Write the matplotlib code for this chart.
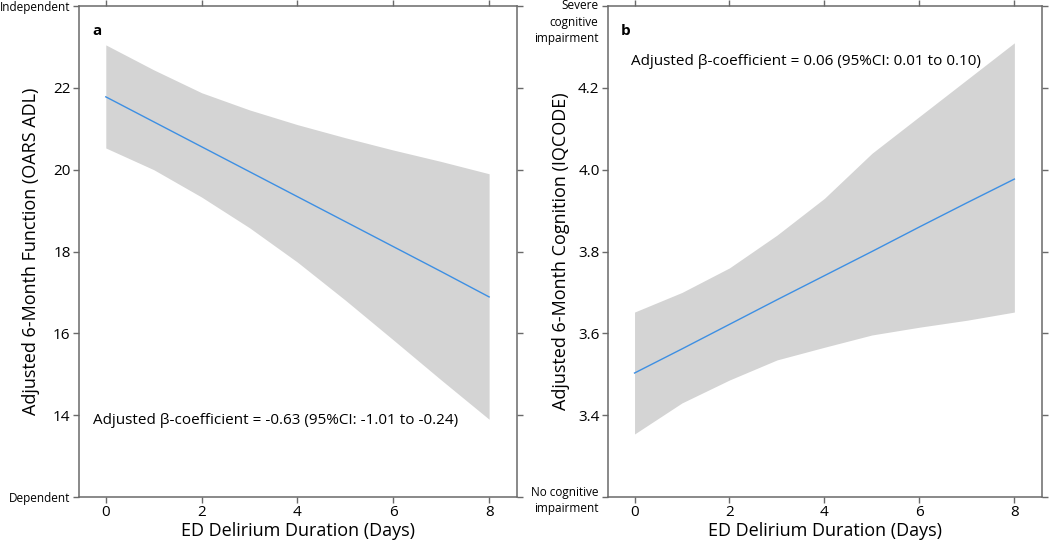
import matplotlib.pyplot as plt

plt.rcParams['font.family'] = ['Open Sans', 'DejaVu Sans']

days = [0, 1, 2, 3, 4, 5, 6, 7, 8]

# panel a: function (OARS ADL)
func_fit = [21.78, 21.17, 20.56, 19.95, 19.34, 18.73, 18.12, 17.51, 16.89]
func_hi = [23.05, 22.44, 21.88, 21.46, 21.10, 20.78, 20.48, 20.20, 19.90]
func_lo = [20.53, 20.00, 19.33, 18.58, 17.74, 16.81, 15.84, 14.86, 13.90]
func_ticks = [12, 14, 16, 18, 20, 22, 24]
func_labels = ['Dependent', '14', '16', '18', '20', '22', 'Independent']

# panel b: cognition (IQCODE)
cog_fit = [3.503, 3.562, 3.622, 3.682, 3.741, 3.800, 3.860, 3.919, 3.977]
cog_hi = [3.652, 3.700, 3.760, 3.840, 3.930, 4.040, 4.130, 4.220, 4.310]
cog_lo = [3.354, 3.430, 3.486, 3.535, 3.566, 3.596, 3.615, 3.632, 3.652]
cog_ticks = [3.4, 3.6, 3.8, 4.0, 4.2]

spine_col = '#6a6a6a'
fill_col = '#d4d4d4'
line_col = '#3d8fe3'

fig = plt.figure(figsize=(10.5, 5.4), dpi=100)
ax1 = fig.add_axes([0.0752, 0.0796, 0.4171, 0.9093])
ax2 = fig.add_axes([0.5790, 0.0796, 0.4133, 0.9093])


def style(ax):
    for s in ax.spines.values():
        s.set_color(spine_col)
        s.set_linewidth(1.1)
    ax.tick_params(direction='out', length=4, width=1.0, color=spine_col,
                   labelsize=11, top=True, right=True, pad=2)
    ax.set_xlim(-0.56, 8.58)
    ax.set_xticks([0, 2, 4, 6, 8])
    ax.set_xlabel('ED Delirium Duration (Days)', fontsize=13, labelpad=1)


# panel a
ax1.fill_between(days, func_lo, func_hi, color=fill_col, lw=0)
ax1.plot(days, func_fit, color=line_col, lw=1.0)
style(ax1)
ax1.set_ylim(12, 24)
ax1.set_yticks(func_ticks)
ax1.set_yticklabels(func_labels)
for lab in (ax1.get_yticklabels()[0], ax1.get_yticklabels()[-1]):
    lab.set_fontsize(8.5)
ax1.set_ylabel('Adjusted 6-Month Function (OARS ADL)', fontsize=13)
ax1.yaxis.set_label_coords(-0.089, 0.5)
ax1.text(0.03, 0.963, 'a', transform=ax1.transAxes, fontsize=11,
         fontweight='bold', va='top')
ax1.text(0.032, 13.88, 'Adjusted β-coefficient = -0.63 (95%CI: -1.01 to -0.24)',
         transform=ax1.get_yaxis_transform(), fontsize=11, va='center')

# panel b
ax2.fill_between(days, cog_lo, cog_hi, color=fill_col, lw=0)
ax2.plot(days, cog_fit, color=line_col, lw=1.0)
style(ax2)
ax2.set_ylim(3.2, 4.4)
ax2.set_yticks([3.2] + cog_ticks + [4.4])
ax2.set_yticklabels([''] + ['%.1f' % v for v in cog_ticks] + [''])
ax2.set_ylabel('Adjusted 6-Month Cognition (IQCODE)', fontsize=13)
ax2.yaxis.set_label_coords(-0.0876, 0.5)
ax2.annotate('Severe\ncognitive\nimpairment', xy=(0, 4.4),
             xycoords=('axes fraction', 'data'), xytext=(-7, 5),
             textcoords='offset points', ha='right', va='top',
             fontsize=8.5, linespacing=1.35)
ax2.annotate('No cognitive\nimpairment', xy=(0, 3.2),
             xycoords=('axes fraction', 'data'), xytext=(-7, 8),
             textcoords='offset points', ha='right', va='top',
             fontsize=8.5, linespacing=1.35)
ax2.text(0.03, 0.963, 'b', transform=ax2.transAxes, fontsize=11,
         fontweight='bold', va='top')
ax2.text(0.053, 4.264, 'Adjusted β-coefficient = 0.06 (95%CI: 0.01 to 0.10)',
         transform=ax2.get_yaxis_transform(), fontsize=11, va='center')

fig.savefig('out.png', dpi=100)
